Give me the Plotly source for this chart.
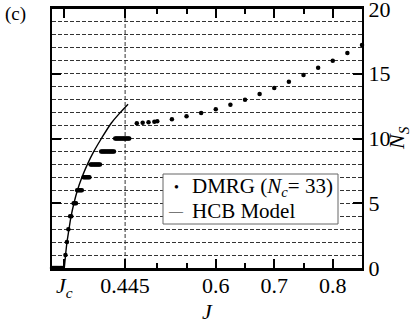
import plotly.graph_objects as go

# ── Data ────────────────────────────────────────────────────────────────────

J_C = 0.341
J_MARK = 0.445

# DMRG (Nc = 33): integer plateaus at small J, then a smooth rise
dmrg_J = [
    0.320, 0.322, 0.324, 0.326, 0.328, 0.330, 0.332, 0.334, 0.336, 0.338,
    0.343,
    0.3455,
    0.348,
    0.351, 0.353,
    0.357, 0.359, 0.361,
    0.363, 0.365, 0.367, 0.369, 0.371,
    0.374, 0.376, 0.378, 0.380, 0.382, 0.384,
    0.386, 0.388, 0.390, 0.392, 0.394, 0.396, 0.398, 0.400, 0.402,
    0.404, 0.406, 0.408, 0.410, 0.412, 0.414, 0.416, 0.418, 0.420, 0.422, 0.424, 0.426,
    0.428, 0.430, 0.432, 0.434, 0.436, 0.438, 0.440, 0.442, 0.444, 0.446, 0.448, 0.450, 0.452,
    0.465, 0.475, 0.485, 0.495, 0.500, 0.525, 0.550, 0.575, 0.600, 0.625,
    0.650, 0.675, 0.700, 0.725, 0.750, 0.775, 0.800, 0.825, 0.850,
]
dmrg_Ns = [
    0, 0, 0, 0, 0, 0, 0, 0, 0, 0,
    1,
    2,
    3,
    4, 4,
    5, 5, 5,
    6, 6, 6, 6, 6,
    7, 7, 7, 7, 7, 7,
    8, 8, 8, 8, 8, 8, 8, 8, 8,
    9, 9, 9, 9, 9, 9, 9, 9, 9, 9, 9, 9,
    10, 10, 10, 10, 10, 10, 10, 10, 10, 10, 10, 10, 10,
    11.17, 11.22, 11.25, 11.30, 11.33, 11.48, 11.71, 11.97, 12.25, 12.61,
    13.00, 13.44, 13.90, 14.39, 14.90, 15.46, 16.00, 16.60, 17.22,
]

# HCB model curve
hcb_J = [0.341, 0.3428, 0.3455, 0.3489, 0.3525, 0.3575, 0.3635, 0.3712,
         0.3805, 0.3915, 0.4045, 0.4215, 0.4350, 0.450]
hcb_Ns = [0, 0.83, 1.95, 2.96, 3.96, 5.0, 6.0, 7.0,
          8.0, 9.0, 10.0, 11.2, 11.92, 12.65]

x_tickvals = [J_C, J_MARK, 0.6, 0.7, 0.8]
x_ticktext = ["<i>J</i><sub><i>c</i></sub>", "0.445", "0.6", "0.7", "0.8"]
x_minor = [0.5, 0.55, 0.65, 0.75]
y_tickvals = [0, 5, 10, 15, 20]

FONT = "Times New Roman, Liberation Serif, serif"


def px(x, y):
    # pixel position in the 415x327 figure -> paper coords of the plot area
    return (x - 52) / 310, (268 - y) / 259


fig = go.Figure()

fig.add_trace(go.Scatter(
    x=dmrg_J, y=dmrg_Ns, mode="markers",
    marker=dict(color="black", size=4.5),
    name="DMRG (<i>N</i><sub>c</sub>= 33)",
    cliponaxis=False, showlegend=False,
))
fig.add_trace(go.Scatter(
    x=hcb_J, y=hcb_Ns, mode="lines",
    line=dict(color="black", width=1.4, shape="spline", smoothing=1),
    name="HCB Model", showlegend=False,
))

fig.add_vline(x=J_MARK, line=dict(color="#333", width=1, dash="4px,2px"), layer="below")

fig.update_xaxes(
    range=[0.32, 0.85], automargin=False, ticklabeloverflow="allow",
    tickvals=x_tickvals, ticktext=x_ticktext, ticklabelstandoff=-4,
    ticks="inside", ticklen=9, tickwidth=1.5, tickcolor="black",
    minor=dict(tickvals=x_minor, ticks="inside", ticklen=5, tickwidth=1.5, tickcolor="black"),
    showline=True, linecolor="black", linewidth=2.5, mirror="allticks",
    showgrid=False, zeroline=False,
    tickfont=dict(family=FONT, size=22, color="black"),
    title=dict(text="<i>J</i>", font=dict(family=FONT, size=22, color="black"), standoff=4),
)
fig.update_yaxes(
    range=[0, 20], side="right", automargin=False, ticklabeloverflow="allow",
    tickvals=y_tickvals,
    ticks="inside", ticklen=9, tickwidth=1.5, tickcolor="black",
    showline=True, linecolor="black", linewidth=2, mirror="allticks",
    showgrid=True, gridcolor="#333", gridwidth=1, griddash="4px,2px",
    minor=dict(dtick=1, showgrid=True, gridcolor="#333", gridwidth=1, griddash="4px,2px", ticks=""),
    zeroline=False,
    tickfont=dict(family=FONT, size=22, color="black"),
)

# y title on the right
tx, ty = px(398, 138)
fig.add_annotation(
    text="<i>N<sub>S</sub></i>", xref="paper", yref="paper", x=tx, y=ty,
    textangle=-90, xanchor="center", yanchor="middle", showarrow=False,
    font=dict(family=FONT, size=22, color="black"),
)
tx, ty = px(15, 14)
fig.add_annotation(
    text="(c)", xref="paper", yref="paper", x=tx, y=ty,
    xanchor="center", yanchor="middle", showarrow=False,
    font=dict(family=FONT, size=19, color="black"),
)

# legend box
bx0, by0 = px(163, 224)
bx1, by1 = px(338, 174)
fig.add_shape(type="rect", xref="paper", yref="paper", x0=bx0, y0=by0, x1=bx1, y1=by1,
              fillcolor="white", line=dict(color="#666", width=1), layer="above")
legend_rows = [(187, "•", 14, "DMRG (<i>N</i><sub><i>c</i></sub>= 33)"), (211, "—", 14, "HCB Model")]
for row_y, sym, sym_size, label in legend_rows:
    sx, sy = px(176, row_y)
    fig.add_annotation(text=sym, xref="paper", yref="paper", x=sx, y=sy,
                       xanchor="center", yanchor="middle", showarrow=False,
                       font=dict(family=FONT, size=sym_size, color="black"))
    lx, ly = px(190, row_y)
    fig.add_annotation(text=label, xref="paper", yref="paper", x=lx, y=ly,
                       xanchor="left", yanchor="middle", showarrow=False,
                       font=dict(family=FONT, size=21, color="black"))

fig.update_layout(
    width=415, height=327,
    margin=dict(l=52, r=53, t=9, b=59),
    plot_bgcolor="white", paper_bgcolor="white",
    font=dict(family=FONT, size=20, color="black"),
    showlegend=False,
)

fig.write_html("out.html", config={"displayModeBar": False},
               post_script="document.body.style.margin='0px';")
